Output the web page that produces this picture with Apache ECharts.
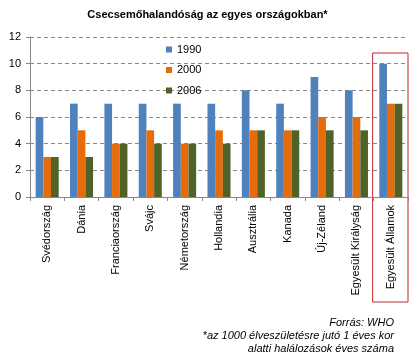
<!DOCTYPE html>
<html><head><meta charset="utf-8">
<script src="https://cdn.jsdelivr.net/npm/echarts@6/dist/echarts.min.js"></script>
<style>html,body{margin:0;padding:0;background:#fff}#c{width:415px;height:357px}</style>
</head><body><div id="c"></div>
<script>
const categories = ['Svédország','Dánia','Franciaország','Svájc','Németország','Hollandia','Ausztrália','Kanada','Új-Zéland','Egyesült Királyság','Egyesült Államok'];
const s1990 = [6,7,7,7,7,7,8,7,9,8,10];
const s2000 = [3,5,4,5,4,5,5,5,6,6,7];
const s2006 = [3,3,4,4,4,4,5,5,5,5,7];
const yTicks = [0,2,4,6,8,10,12];
const titleText = 'Csecsemőhalandóság az egyes országokban*';
const noteLines = ['Forrás: WHO','*az 1000 élveszületésre jutó 1 éves kor','alatti halálozások éves száma'];

const chart = echarts.init(document.getElementById('c'));
const font = 'Liberation Sans, Arial, sans-serif';
chart.setOption({
  animation:false,
  textStyle:{fontFamily:font},
  title:{text:titleText,left:'center',top:4,textStyle:{fontSize:11,fontWeight:'bold',color:'#000',fontFamily:font}},
  legend:{orient:'vertical',left:161,top:39,itemWidth:6,itemHeight:6,itemGap:9.5,icon:'rect',
    textStyle:{fontSize:11,color:'#000',fontFamily:font},data:['1990','2000','2006']},
  grid:{left:30,right:7,top:37,bottom:160},
  xAxis:{type:'category',data:categories,
    axisLine:{lineStyle:{color:'#888'}},
    axisTick:{show:true,length:4,lineStyle:{color:'#888'}},
    axisLabel:{rotate:90,fontSize:11,color:'#000',margin:8,interval:0,fontFamily:font}},
  yAxis:{type:'value',min:0,max:12,interval:2,
    axisLine:{show:true,lineStyle:{color:'#888'}},
    axisTick:{show:true,length:4,lineStyle:{color:'#888'}},
    axisLabel:{fontSize:11,color:'#000',margin:9,fontFamily:font,
      formatter:v=>yTicks.includes(v)?String(v):''},
    splitLine:{lineStyle:{color:'#888',type:[4,3]}}},
  series:[
    {name:'1990',type:'bar',data:s1990,itemStyle:{color:'#4F81BD'},barGap:'0%',barCategoryGap:'33%'},
    {name:'2000',type:'bar',data:s2000,itemStyle:{color:'#E46C0A'}},
    {name:'2006',type:'bar',data:s2006,itemStyle:{color:'#4F6228'}}
  ]
});
// annotations: red box around last category and footnote text
const last = categories.length-1;
const cx = chart.convertToPixel({xAxisIndex:0},last);
const cx0 = chart.convertToPixel({xAxisIndex:0},last-1);
const band = cx-cx0;
const yTop = chart.convertToPixel({yAxisIndex:0},10.8);
const noteX = 394;
const g = [
  {type:'rect',shape:{x:cx-band/2-1,y:yTop,width:band+1,height:302-yTop},
   style:{fill:'none',stroke:'#C0282D',lineWidth:1}}
];
noteLines.forEach((t,i)=>g.push({type:'text',x:noteX,y:317+i*13,
  style:{text:t,textAlign:'right',textVerticalAlign:'top',font:'italic 11px '+font,fill:'#000'}}));
chart.setOption({graphic:g});
</script></body></html>
